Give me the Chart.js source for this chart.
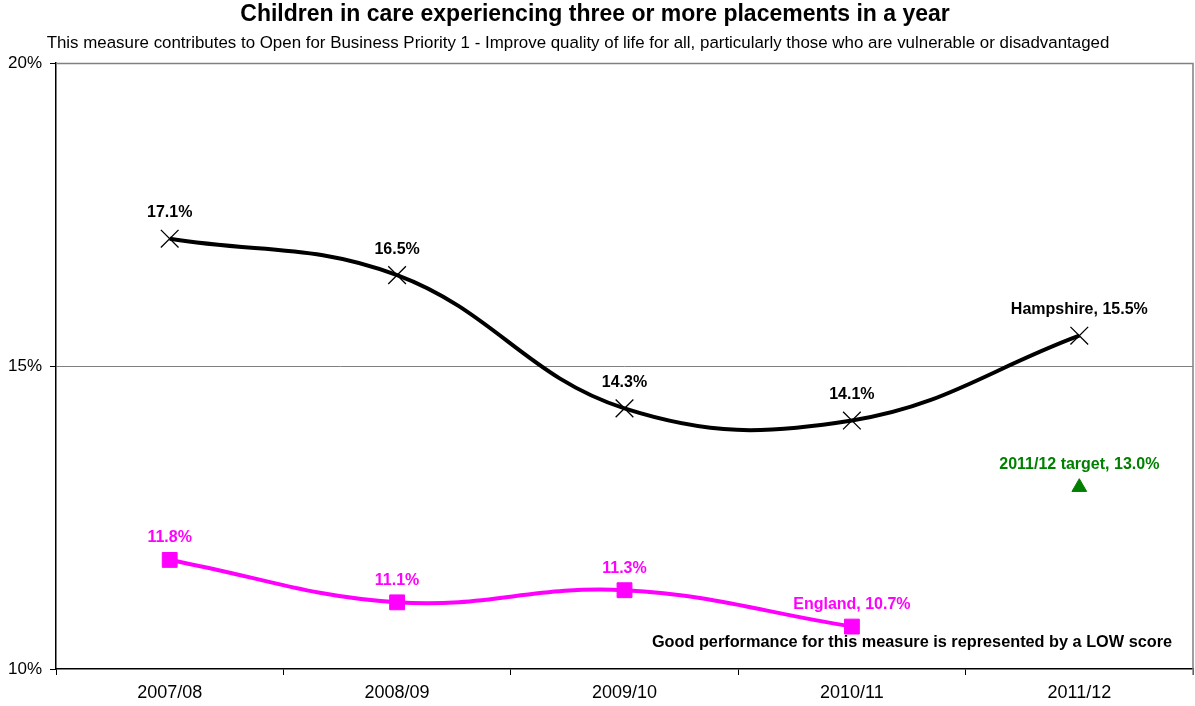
<!DOCTYPE html>
<html><head><meta charset="utf-8">
<script src="https://cdn.jsdelivr.net/npm/chart.js@4"></script>
<style>html,body{margin:0;padding:0;background:#fff}#wrap{width:1195px;height:706px}</style>
</head><body><div id="wrap"><canvas id="c" width="1195" height="706"></canvas></div>
<script>
const categories = ['2007/08','2008/09','2009/10','2010/11','2011/12'];
const hampshire = [17.1, 16.5, 14.3, 14.1, 15.5];
const england = [11.8, 11.1, 11.3, 10.7, null];
const target = [null, null, null, null, 13.0];
const yTicks = [10, 15, 20];
const titleText = 'Children in care experiencing three or more placements in a year';
const subtitleText = 'This measure contributes to Open for Business Priority 1 - Improve quality of life for all, particularly those who are vulnerable or disadvantaged';
const noteText = 'Good performance for this measure is represented by a LOW score';
const FONT = '"Liberation Sans", Arial, sans-serif';

const labelPlugin = {
  id: 'labels',
  beforeDatasetsDraw(chart) {
    const {ctx, chartArea: a} = chart;
    ctx.save();
    ctx.strokeStyle = '#808080'; ctx.lineWidth = 1.5;
    ctx.beginPath();
    ctx.moveTo(a.left, a.top + 0.5); ctx.lineTo(a.right, a.top + 0.5);
    ctx.lineTo(a.right, a.bottom + 6);
    ctx.stroke();
    ctx.restore();
  },
  afterDatasetsDraw(chart) {
    const {ctx, chartArea: a} = chart;
    ctx.save();
    ctx.textAlign = 'center'; ctx.textBaseline = 'middle';
    ctx.font = 'bold 16px ' + FONT;
    const hMeta = chart.getDatasetMeta(1);
    hMeta.data.forEach((p, i) => {
      const v = hampshire[i];
      if (v == null) return;
      const txt = (i === hampshire.length - 1 ? 'Hampshire, ' : '') + v.toFixed(1) + '%';
      ctx.fillStyle = '#000';
      ctx.fillText(txt, p.x, p.y - 26);
    });
    const eMeta = chart.getDatasetMeta(0);
    let lastE = -1; england.forEach((v, i) => { if (v != null) lastE = i; });
    eMeta.data.forEach((p, i) => {
      const v = england[i];
      if (v == null) return;
      const txt = (i === lastE ? 'England, ' : '') + v.toFixed(1) + '%';
      ctx.fillStyle = '#FF00FF';
      ctx.fillText(txt, p.x, p.y - 22);
    });
    const tMeta = chart.getDatasetMeta(2);
    tMeta.data.forEach((p, i) => {
      const v = target[i];
      if (v == null) return;
      ctx.fillStyle = '#008000';
      ctx.fillText(categories[i] + ' target, ' + v.toFixed(1) + '%', p.x, p.y - 23);
    });
    // note
    ctx.fillStyle = '#000';
    ctx.font = 'bold 16.3px ' + FONT;
    ctx.fillText(noteText, 912, 643);
    // title
    ctx.font = 'bold 23px ' + FONT;
    ctx.fillText(titleText, 595, 15);
    ctx.font = '16.9px ' + FONT;
    ctx.fillText(subtitleText, 578, 43);
    ctx.restore();
  }
};

new Chart(document.getElementById('c'), {
  type: 'line',
  data: {
    labels: categories,
    datasets: [
      { label: 'England', data: england, borderColor: '#FF00FF', backgroundColor: '#FF00FF',
        borderWidth: 4, tension: 0.4, pointStyle: 'rect', pointRadius: 10.5, pointHoverRadius: 10.5,
        pointBorderWidth: 1, pointBorderColor: '#FF00FF', spanGaps: false },
      { label: 'Hampshire', data: hampshire, borderColor: '#000', backgroundColor: '#000',
        borderWidth: 4, tension: 0.4, pointStyle: 'crossRot', pointRadius: 12.5, pointHoverRadius: 12.5,
        pointBorderWidth: 1.3, pointBorderColor: '#000' },
      { label: 'Target', data: target, showLine: false, pointStyle: 'triangle', pointRadius: 8.5,
        pointHoverRadius: 8.5, backgroundColor: '#008000', borderColor: '#008000', pointBorderWidth: 1 }
    ]
  },
  options: {
    responsive: false, animation: false,
    layout: { autoPadding: false, padding: { top: 63, right: 2, left: 0, bottom: 0 } },
    plugins: { legend: { display: false }, tooltip: { enabled: false }, title: { display: false } },
    scales: {
      x: {
        offset: true,
        grid: { offset: true, drawOnChartArea: false, drawTicks: true, tickLength: 6, tickColor: '#000', color: '#000' },
        border: { color: '#000', width: 1.5 },
        ticks: { color: '#000', font: { family: FONT, size: 18 }, padding: 7, maxRotation: 0 },
        afterFit(s) { s.height = 37; s.paddingRight = 0; s.paddingLeft = 0; }
      },
      y: {
        min: 10, max: 20,
        afterBuildTicks(s) { s.ticks = yTicks.map(v => ({ value: v })); },
        grid: {
          color: (c) => c.tick && c.tick.value === 15 ? '#808080' : 'rgba(0,0,0,0)',
          tickColor: '#000', tickLength: 6, lineWidth: 1
        },
        border: { color: '#000', width: 1.5 },
        ticks: { color: '#000', font: { family: FONT, size: 17 }, padding: 8, callback: v => v + '%' },
        afterFit(s) { s.width = 56; }
      }
    }
  },
  plugins: [labelPlugin]
});
</script>
</body></html>
